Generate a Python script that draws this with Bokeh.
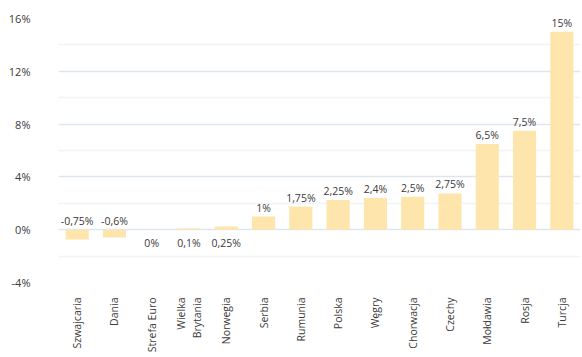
from math import pi
from bokeh.plotting import figure
from bokeh.models import FactorRange, Range1d, FixedTicker, ColumnDataSource
from bokeh.core.properties import value
from bokeh.embed import file_html
from bokeh.resources import INLINE

countries = ["Szwajcaria", "Dania", "Strefa Euro", "Wielka\nBrytania", "Norwegia", "Serbia",
             "Rumunia", "Polska", "Węgry", "Chorwacja", "Czechy", "Mołdawia", "Rosja", "Turcja"]
rates = [-0.75, -0.6, 0.0, 0.1, 0.25, 1.0, 1.75, 2.25, 2.4, 2.5, 2.75, 6.5, 7.5, 15.0]
y_ticks = [-4, 0, 4, 8, 12, 16]
y_minor = [-2, 2, 6, 10, 14]

FONT = "Open Sans"
TXT = "#3a3a3a"

def fmt(v):
    s = ("%g" % v).replace(".", ",")
    return s + "%"

above = [(r < 0 or r >= 0.5) for r in rates]
src_above = ColumnDataSource(dict(
    x=[c for c, a in zip(countries, above) if a],
    y=[max(r, 0) for r, a in zip(rates, above) if a],
    t=[fmt(r) for r, a in zip(rates, above) if a]))
src_below = ColumnDataSource(dict(
    x=[c for c, a in zip(countries, above) if not a],
    y=[0 for r, a in zip(rates, above) if not a],
    t=[fmt(r) for r, a in zip(rates, above) if not a]))

p = figure(x_range=FactorRange(*countries, range_padding=0),
           y_range=Range1d(-4, 16),
           width=582, height=357, output_backend="svg", toolbar_location=None,
           min_border_top=18, min_border_left=58, min_border_right=2, min_border_bottom=75)
p.outline_line_color = None
p.background_fill_color = "white"

p.vbar(x=countries, top=rates, width=0.62, fill_color="#FDE5AC", line_color=None)

p.text(x="x", y="y", text="t", source=src_above, text_font=value(FONT), text_font_size="10.5px",
       text_color=TXT, text_align="center", text_baseline="bottom", y_offset=-2)
p.text(x="x", y="y", text="t", source=src_below, text_font=value(FONT), text_font_size="10.5px",
       text_color=TXT, text_align="center", text_baseline="top", y_offset=6)

p.yaxis.ticker = FixedTicker(ticks=y_ticks, minor_ticks=y_minor)
p.yaxis.major_label_overrides = {t: "%d%%" % t for t in y_ticks}
p.yaxis.axis_line_color = None
p.yaxis.major_tick_line_color = None
p.yaxis.minor_tick_line_color = None
p.yaxis.major_label_standoff = 22
p.yaxis.major_label_text_font = FONT
p.yaxis.major_label_text_font_size = "11px"
p.yaxis.major_label_text_color = TXT

p.xaxis.axis_line_color = None
p.xaxis.major_tick_line_color = None
p.xaxis.major_label_orientation = pi / 2
p.xaxis.major_label_standoff = 9
p.xaxis.major_label_text_font = FONT
p.xaxis.major_label_text_font_size = "10.5px"
p.xaxis.major_label_text_color = TXT

p.xgrid.grid_line_color = None
p.ygrid.grid_line_color = "#dde6ee"
p.ygrid.grid_line_width = 1.5
p.ygrid.minor_grid_line_color = "#f1f4f7"
p.ygrid.minor_grid_line_width = 1.5

open("out.html", "w").write(file_html(p, INLINE))
